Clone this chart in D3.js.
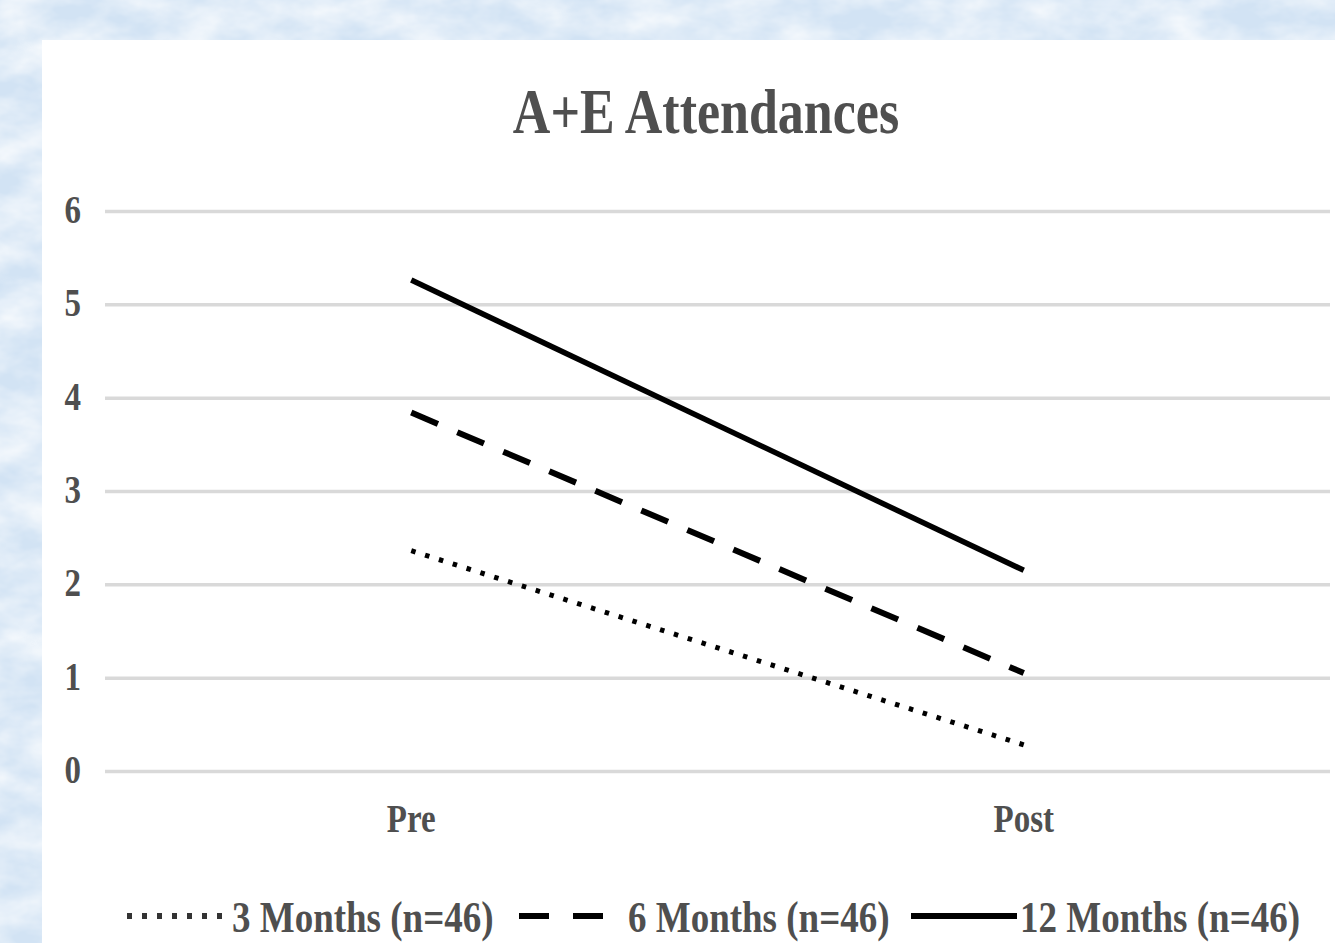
<!DOCTYPE html>
<html>
<head>
<meta charset="utf-8">
<script src="https://cdn.jsdelivr.net/npm/d3@7"></script>
<style>
  html, body { margin: 0; padding: 0; background: #dce9f6; }
  svg { display: block; }
  text { font-family: "Liberation Serif", "Times New Roman", serif; font-weight: bold; fill: #4f4f4f; }
</style>
</head>
<body>
<svg id="chart" width="1335" height="943"></svg>
<script>
// ---- data ----
const title = "A+E Attendances";
const categories = ["Pre", "Post"];
const seriesNames = ["3 Months (n=46)", "6 Months (n=46)", "12 Months (n=46)"];
const months3 = [2.36, 0.28];
const months6 = [3.84, 1.05];
const months12 = [5.26, 2.15];
const yTicks = [0, 1, 2, 3, 4, 5, 6];

const W = 1335, H = 943;
const svg = d3.select("#chart");
const stretch = 1.2; // glyphs are drawn taller than wide

// ---- textured blue backdrop ----
const defs = svg.append("defs");
const f = defs.append("filter").attr("id", "paper").attr("x", 0).attr("y", 0).attr("width", 1).attr("height", 1);
f.append("feTurbulence").attr("type", "fractalNoise").attr("baseFrequency", "0.018 0.03").attr("numOctaves", 4).attr("seed", 11);
f.append("feColorMatrix").attr("type", "matrix")
  .attr("values", "0 0 0 0 1  0 0 0 0 1  0 0 0 0 1  1.3 0 0 0 -0.35");
svg.append("rect").attr("width", W).attr("height", H).attr("fill", "#d2e3f4");
svg.append("rect").attr("width", W).attr("height", H).attr("filter", "url(#paper)");

// ---- white chart panel ----
svg.append("rect").attr("x", 42).attr("y", 40).attr("width", W - 42).attr("height", H - 40).attr("fill", "#ffffff");

// ---- scales ----
const x = d3.scalePoint().domain(categories).range([105, 1330]).padding(0.5);
const y = d3.scaleLinear().domain([0, 6]).range([771, 211]);

function stretchedText(g, tx, ty, str, size, anchor) {
  return g.append("text")
    .attr("transform", `translate(${tx},${ty}) scale(1,${stretch})`)
    .attr("text-anchor", anchor)
    .attr("font-size", size)
    .text(str);
}

// ---- title ----
stretchedText(svg, 706, 133, title, 52, "middle");

// ---- gridlines + y labels ----
const yAxis = d3.axisLeft(y).tickValues(yTicks).tickSize(-(1330 - 105)).tickFormat("");
const gy = svg.append("g").attr("transform", "translate(105,0)").call(yAxis);
gy.select(".domain").remove();
gy.selectAll(".tick line").attr("stroke", "#d9d9d9").attr("stroke-width", 3.5);

yTicks.forEach(v => stretchedText(svg, 81, y(v) + 12, String(v), 33, "end"));

// ---- category labels ----
categories.forEach(c => stretchedText(svg, x(c), 832, c, 33, "middle"));

// ---- series lines ----
const series = [
  { name: seriesNames[0], values: months3, dash: "4.5 10", width: 5 },
  { name: seriesNames[1], values: months6, dash: "29 21", width: 6 },
  { name: seriesNames[2], values: months12, dash: null, width: 5.5 }
];
const line = d3.line().x((d, i) => x(categories[i])).y(d => y(d));
series.forEach(s => {
  svg.append("path")
    .datum(s.values)
    .attr("d", line)
    .attr("fill", "none")
    .attr("stroke", "#000")
    .attr("stroke-width", s.width)
    .attr("stroke-dasharray", s.dash);
});

// ---- legend ----
const legendItems = [
  { x0: 127, x1: 229, tx: 232, dash: "5 10", color: "#333" },
  { x0: 519, x1: 603, tx: 628, dash: "30 24", color: "#000" },
  { x0: 911, x1: 1017, tx: 1020, dash: null, color: "#000" }
];
const lg = svg.append("g");
series.forEach((s, i) => {
  const L = legendItems[i];
  lg.append("line")
    .attr("x1", L.x0).attr("x2", L.x1).attr("y1", 916).attr("y2", 916)
    .attr("stroke", L.color)
    .attr("stroke-width", 6)
    .attr("stroke-dasharray", L.dash);
  stretchedText(lg, L.tx, 932, s.name, 37, "start");
});
</script>
</body>
</html>
